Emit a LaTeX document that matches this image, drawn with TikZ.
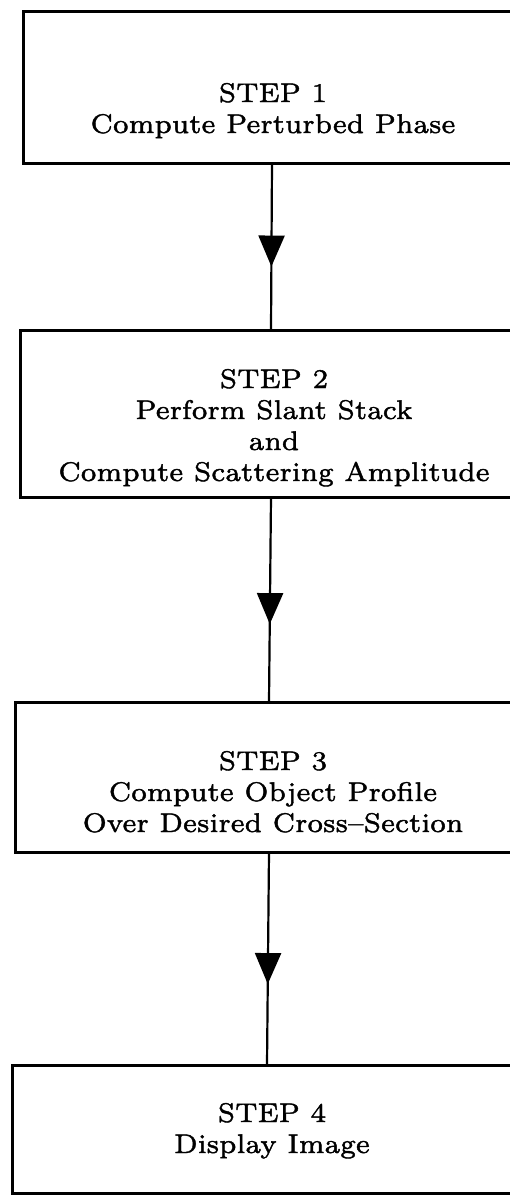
\documentclass[tikz,border=0pt]{standalone}
\usepackage{fontspec}
\setmainfont{lmroman7-regular.otf}[FakeBold=1.5]
\usepackage{graphicx}
\usetikzlibrary{arrows.meta,decorations.markings}
\tikzset{
  stepbox/.style={draw, rectangle, line width=3pt, inner sep=0pt, outer sep=0pt},
  steptext/.style={anchor=north, inner sep=0pt, outer sep=0pt, font=\fontsize{27}{31}\selectfont},
  flow/.style={line width=2.2pt,
    decoration={markings, mark=at position 0.62 with {\arrow{Triangle[length=31pt,width=26pt]}}},
    postaction={decorate}}
}
\newcommand\steplines[1]{\scalebox{1.02}[1]{\begin{tabular}{@{}c@{}}#1\end{tabular}}}
\begin{document}
\begin{tikzpicture}[x=1pt,y=-1pt]
\useasboundingbox (0,0) rectangle (510,1197);
% boxes
\node[stepbox, minimum width=498pt, minimum height=152pt] (b1) at (272,87) {};
\node[stepbox, minimum width=502pt, minimum height=167pt] (b2) at (271,413.5) {};
\node[stepbox, minimum width=508pt, minimum height=150pt] (b3) at (269,777) {};
\node[stepbox, minimum width=510pt, minimum height=128pt] (b4) at (267,1129) {};
% texts
\node[steptext] (t1) at (273,80.3) {\steplines{STEP 1\\ Compute Perturbed Phase}};
\node[steptext] (t2) at (274,366.3) {\steplines{STEP 2\\ Perform Slant Stack\\ and\\ Compute Scattering Amplitude}};
\node[steptext] (t3) at (273,748.3) {\steplines{STEP 3\\ Compute Object Profile\\ Over Desired Cross--Section}};
\node[steptext] (t4) at (272,1100.3) {\steplines{STEP 4\\ Display Image}};
% connectors
\draw[flow] (b1.south) -- (b2.north);
\draw[flow] (b2.south) -- (b3.north);
\draw[flow] (b3.south) -- (b4.north);
\end{tikzpicture}
\end{document}
